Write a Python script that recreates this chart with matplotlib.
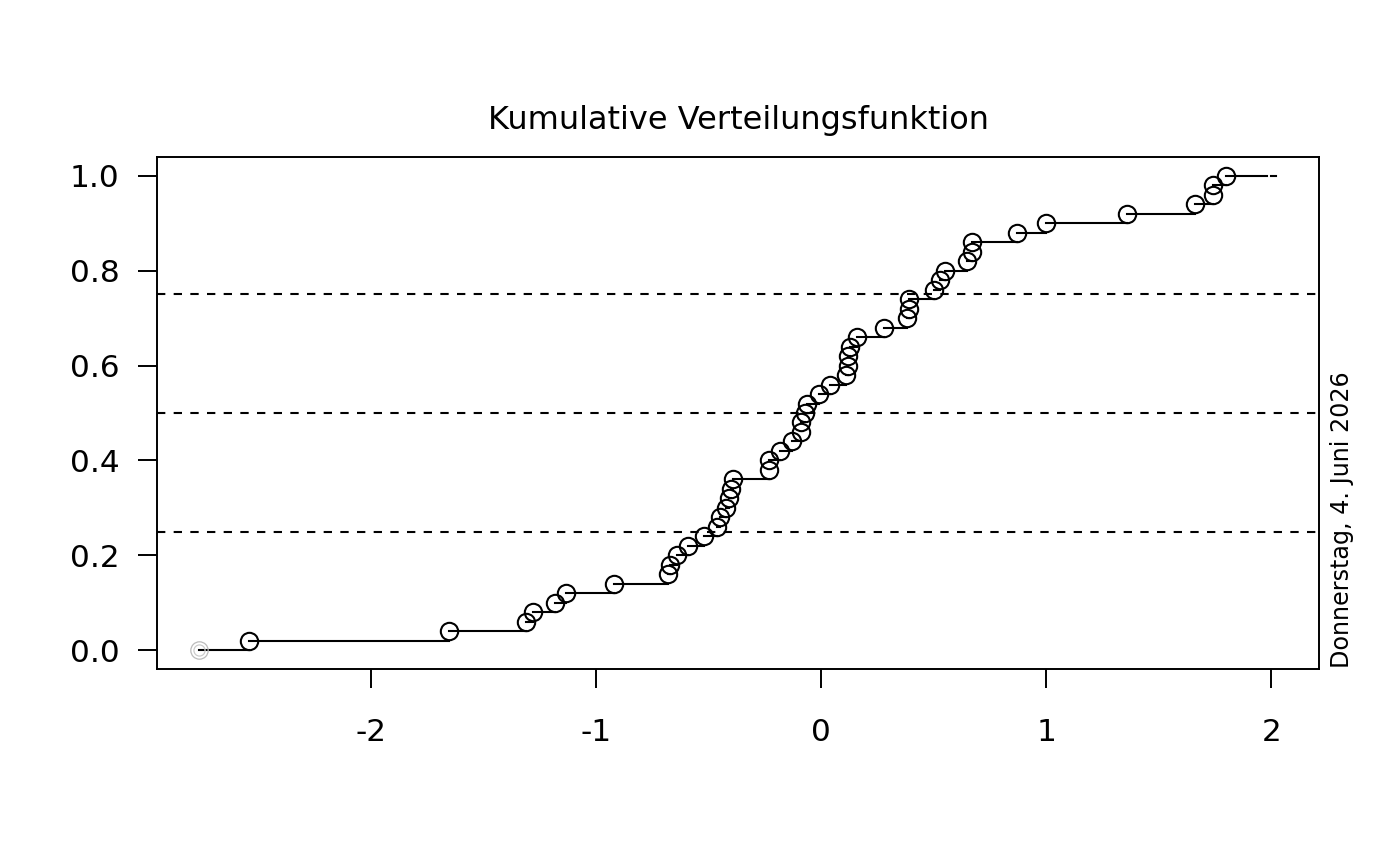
import numpy as np
import matplotlib.pyplot as plt

# sorted sample values, ecdf steps of 1/50
x_vals = [-2.54, -1.65, -1.31, -1.28, -1.18, -1.13, -0.92, -0.68, -0.67, -0.64,
          -0.59, -0.52, -0.46, -0.45, -0.42, -0.41, -0.40, -0.39, -0.23, -0.23,
          -0.18, -0.13, -0.09, -0.09, -0.07, -0.06, -0.01, 0.04, 0.11, 0.12,
          0.12, 0.13, 0.16, 0.28, 0.38, 0.39, 0.39, 0.50, 0.53, 0.55,
          0.65, 0.67, 0.67, 0.87, 1.00, 1.36, 1.66, 1.74, 1.74, 1.80]
x_start = -2.76
x_end = 2.02
quartiles = [0.25, 0.5, 0.75]
x_ticks = [-2, -1, 0, 1, 2]
y_ticks = [0.0, 0.2, 0.4, 0.6, 0.8, 1.0]
title = "Kumulative Verteilungsfunktion"
date_text = "Donnerstag, 4. Juni 2026"

n = len(x_vals)
y_vals = np.arange(1, n + 1) / n

fig = plt.figure(figsize=(14, 8.66), dpi=100)
ax = fig.add_axes([157 / 1400, 1 - 669 / 866, (1319 - 157) / 1400, (669 - 157) / 866])

lw = 1.5
# horizontal step segments
ax.plot([x_start, x_vals[0]], [0, 0], color='black', lw=lw)
for i in range(n - 1):
    ax.plot([x_vals[i], x_vals[i + 1]], [y_vals[i], y_vals[i]], color='black', lw=lw)
ax.plot([x_vals[-1], 1.98], [1, 1], color='black', lw=lw)
ax.plot([2.0, x_end], [1, 1], color='black', lw=lw)

# points
ax.plot(x_vals, y_vals, 'o', ms=12.5, mfc='none', mec='black', mew=1.5)
ax.plot([x_start], [0], 'o', ms=12.5, mfc='none', mec='#bbbbbb', mew=0.9)
ax.plot([x_start], [0], 'o', ms=8, mfc='none', mec='#cccccc', mew=0.9)

for q in quartiles:
    ax.axhline(q, color='black', lw=lw, dashes=(4, 4))

ax.set_xlim(-2.948, 2.211)
ax.set_ylim(-0.04, 1.04)
ax.set_xticks(x_ticks)
ax.set_xticklabels([str(t) for t in x_ticks])
ax.set_yticks(y_ticks)
ax.set_yticklabels([f"{t:.1f}" for t in y_ticks])
ax.tick_params(axis='both', direction='out', length=14, width=1.4, labelsize=22.4)
ax.tick_params(axis='x', pad=21)
ax.tick_params(axis='y', pad=13)
for s in ax.spines.values():
    s.set_linewidth(1.4)

fig.text((157 + 1319) / 2 / 1400, 1 - 120 / 866, title, ha='center', va='center', fontsize=23)
fig.text(1342 / 1400, 1 - 668 / 866, date_text, rotation=90, ha='center', va='bottom', fontsize=17.2)

fig.savefig('out.png', dpi=100)
